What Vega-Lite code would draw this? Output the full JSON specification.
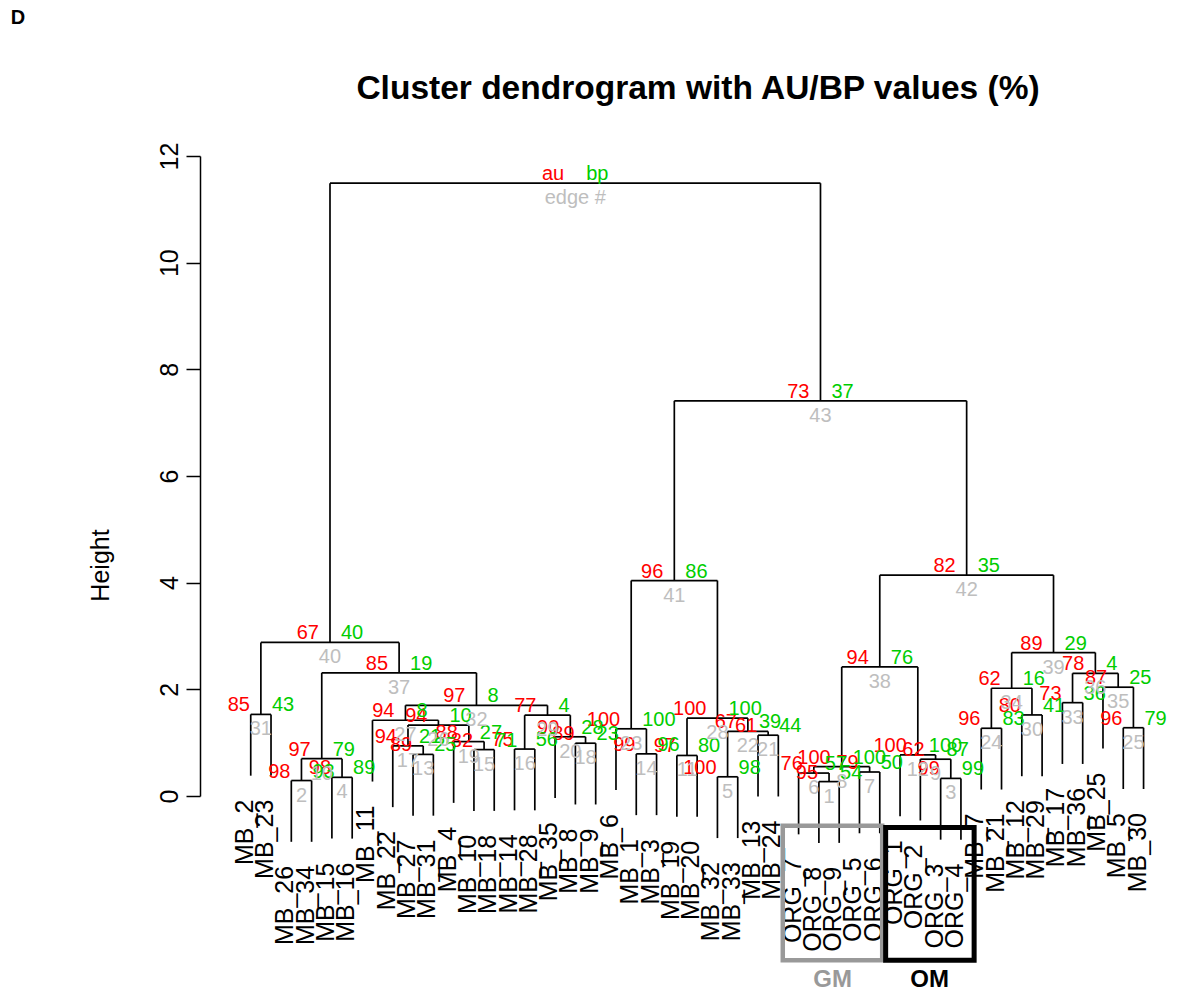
{
  "$schema": "https://vega.github.io/schema/vega-lite/v6.json",
  "autosize": {"type": "none"},
  "padding": {"left": 200, "top": 156, "right": 3, "bottom": 209},
  "width": 974,
  "height": 640,
  "title": {"text": "Cluster dendrogram with AU/BP values (%)", "fontSize": 33.5, "fontWeight": "bold", "font": "Liberation Sans", "color": "black", "anchor": "middle", "frame": "group", "offset": 0, "dx": 11, "dy": 125, "baseline": "alphabetic"},
  "config": {"view": {"stroke": null}, "font": "Liberation Sans"},
  "datasets": {
    "merges": [
      {"edge":"1","x":29.5,"h":0.27,"xl":29,"hl":-0.879,"xr":30,"hr":-0.879,"au":"95","bp":"54"},
      {"edge":"2","x":3.5,"h":0.29,"xl":3,"hl":-0.859,"xr":4,"hr":-0.859,"au":"98","bp":"93"},
      {"edge":"3","x":35.5,"h":0.33,"xl":35,"hl":-0.819,"xr":36,"hr":-0.819,"au":"99","bp":"99"},
      {"edge":"4","x":5.5,"h":0.35,"xl":5,"hl":-0.799,"xr":6,"hr":-0.799,"au":"98","bp":"89"},
      {"edge":"5","x":24.5,"h":0.36,"xl":24,"hl":-0.789,"xr":25,"hr":-0.789,"au":"100","bp":"98"},
      {"edge":"6","x":28.75,"h":0.43,"xl":28,"hl":-0.719,"xr":29.5,"hr":0.27,"au":"76","bp":"57"},
      {"edge":"7","x":31.5,"h":0.45,"xl":31,"hl":-0.699,"xr":32,"hr":-0.699,"au":"79","bp":"50"},
      {"edge":"8","x":30.125,"h":0.55,"xl":28.75,"hl":0.43,"xr":31.5,"hr":0.45,"au":"100","bp":"100"},
      {"edge":"9","x":34.75,"h":0.69,"xl":34,"hl":-0.459,"xr":35.5,"hr":0.33,"au":"62","bp":"87"},
      {"edge":"10","x":4.5,"h":0.70,"xl":3.5,"hl":0.29,"xr":5.5,"hr":0.35,"au":"97","bp":"79"},
      {"edge":"11","x":22.5,"h":0.76,"xl":22,"hl":-0.389,"xr":23,"hr":-0.389,"au":"97","bp":"80"},
      {"edge":"12","x":33.875,"h":0.77,"xl":33,"hl":-0.379,"xr":34.75,"hr":0.69,"au":"100","bp":"100"},
      {"edge":"13","x":9.5,"h":0.78,"xl":9,"hl":-0.369,"xr":10,"hr":-0.369,"au":"89","bp":"25"},
      {"edge":"14","x":20.5,"h":0.79,"xl":20,"hl":-0.359,"xr":21,"hr":-0.359,"au":"99","bp":"96"},
      {"edge":"15","x":12.5,"h":0.87,"xl":12,"hl":-0.279,"xr":13,"hr":-0.279,"au":"82","bp":"71"},
      {"edge":"16","x":14.5,"h":0.88,"xl":14,"hl":-0.269,"xr":15,"hr":-0.269,"au":"75","bp":"56"},
      {"edge":"17","x":8.75,"h":0.94,"xl":8,"hl":-0.209,"xr":9.5,"hr":0.78,"au":"94","bp":"21"},
      {"edge":"18","x":17.5,"h":0.99,"xl":17,"hl":-0.159,"xr":18,"hr":-0.159,"au":"89","bp":"23"},
      {"edge":"19","x":11.75,"h":1.02,"xl":11,"hl":-0.129,"xr":12.5,"hr":0.87,"au":"88","bp":"27"},
      {"edge":"20","x":16.75,"h":1.11,"xl":16,"hl":-0.039,"xr":17.5,"hr":0.99,"au":"90","bp":"28"},
      {"edge":"21","x":26.5,"h":1.14,"xl":26,"hl":-0.009,"xr":27,"hr":-0.009,"au":"61","bp":"44"},
      {"edge":"22","x":25.5,"h":1.21,"xl":24.5,"hl":0.36,"xr":26.5,"hr":1.14,"au":"67","bp":"39"},
      {"edge":"23","x":19.75,"h":1.26,"xl":19,"hl":0.111,"xr":20.5,"hr":0.79,"au":"100","bp":"100"},
      {"edge":"24","x":37.5,"h":1.27,"xl":37,"hl":0.121,"xr":38,"hr":0.121,"au":"96","bp":"83"},
      {"edge":"25","x":44.5,"h":1.28,"xl":44,"hl":0.131,"xr":45,"hr":0.131,"au":"96","bp":"79"},
      {"edge":"26","x":10.25,"h":1.33,"xl":8.75,"hl":0.94,"xr":11.75,"hr":1.02,"au":"94","bp":"10"},
      {"edge":"27","x":8.625,"h":1.42,"xl":7,"hl":0.271,"xr":10.25,"hr":1.33,"au":"94","bp":"8"},
      {"edge":"28","x":24,"h":1.46,"xl":22.5,"hl":0.76,"xr":25.5,"hr":1.21,"au":"100","bp":"100"},
      {"edge":"29","x":15.625,"h":1.515,"xl":14.5,"hl":0.88,"xr":16.75,"hr":1.11,"au":"77","bp":"4"},
      {"edge":"30","x":39.5,"h":1.52,"xl":39,"hl":0.371,"xr":40,"hr":0.371,"au":"80","bp":"41"},
      {"edge":"31","x":1.5,"h":1.53,"xl":1,"hl":0.381,"xr":2,"hr":0.381,"au":"85","bp":"43"},
      {"edge":"32","x":12.125,"h":1.70,"xl":8.625,"hl":1.42,"xr":15.625,"hr":1.515,"au":"97","bp":"8"},
      {"edge":"33","x":41.5,"h":1.75,"xl":41,"hl":0.601,"xr":42,"hr":0.601,"au":"73","bp":"36"},
      {"edge":"34","x":38.5,"h":2.02,"xl":37.5,"hl":1.27,"xr":39.5,"hr":1.52,"au":"62","bp":"16"},
      {"edge":"35","x":43.75,"h":2.04,"xl":43,"hl":0.891,"xr":44.5,"hr":1.28,"au":"87","bp":"25"},
      {"edge":"36","x":42.625,"h":2.30,"xl":41.5,"hl":1.75,"xr":43.75,"hr":2.04,"au":"78","bp":"4"},
      {"edge":"37","x":8.3125,"h":2.31,"xl":4.5,"hl":0.70,"xr":12.125,"hr":1.70,"au":"85","bp":"19"},
      {"edge":"38","x":32,"h":2.42,"xl":30.125,"hl":0.55,"xr":33.875,"hr":0.77,"au":"94","bp":"76"},
      {"edge":"39","x":40.5625,"h":2.69,"xl":38.5,"hl":2.02,"xr":42.625,"hr":2.30,"au":"89","bp":"29"},
      {"edge":"40","x":4.90625,"h":2.88,"xl":1.5,"hl":1.53,"xr":8.3125,"hr":2.31,"au":"67","bp":"40"},
      {"edge":"41","x":21.875,"h":4.04,"xl":19.75,"hl":1.26,"xr":24,"hr":1.46,"au":"96","bp":"86"},
      {"edge":"42","x":36.28125,"h":4.14,"xl":32,"hl":2.42,"xr":40.5625,"hr":2.69,"au":"82","bp":"35"},
      {"edge":"43","x":29.078125,"h":7.41,"xl":21.875,"hl":4.04,"xr":36.28125,"hr":4.14,"au":"73","bp":"37"},
      {"edge":"edge #","x":16.9921875,"h":11.49,"xl":4.90625,"hl":2.88,"xr":29.078125,"hr":7.41,"au":"au","bp":"bp"}
    ],
    "leaves": [
      {"label":"MB_2","pos":1,"bottom":0.381},
      {"label":"MB_23","pos":2,"bottom":0.381},
      {"label":"MB_26","pos":3,"bottom":-0.859},
      {"label":"MB_34","pos":4,"bottom":-0.859},
      {"label":"MB_15","pos":5,"bottom":-0.799},
      {"label":"MB_16","pos":6,"bottom":-0.799},
      {"label":"MB_11","pos":7,"bottom":0.271},
      {"label":"MB_22","pos":8,"bottom":-0.209},
      {"label":"MB_27","pos":9,"bottom":-0.369},
      {"label":"MB_31","pos":10,"bottom":-0.369},
      {"label":"MB_4","pos":11,"bottom":-0.129},
      {"label":"MB_10","pos":12,"bottom":-0.279},
      {"label":"MB_18","pos":13,"bottom":-0.279},
      {"label":"MB_14","pos":14,"bottom":-0.269},
      {"label":"MB_28","pos":15,"bottom":-0.269},
      {"label":"MB_35","pos":16,"bottom":-0.039},
      {"label":"MB_8","pos":17,"bottom":-0.159},
      {"label":"MB_9","pos":18,"bottom":-0.159},
      {"label":"MB_6","pos":19,"bottom":0.111},
      {"label":"MB_1","pos":20,"bottom":-0.359},
      {"label":"MB_3","pos":21,"bottom":-0.359},
      {"label":"MB_19","pos":22,"bottom":-0.389},
      {"label":"MB_20","pos":23,"bottom":-0.389},
      {"label":"MB_32","pos":24,"bottom":-0.789},
      {"label":"MB_33","pos":25,"bottom":-0.789},
      {"label":"MB_13","pos":26,"bottom":-0.009},
      {"label":"MB_24","pos":27,"bottom":-0.009},
      {"label":"ORG_7","pos":28,"bottom":-0.719},
      {"label":"ORG_8","pos":29,"bottom":-0.879},
      {"label":"ORG_9","pos":30,"bottom":-0.879},
      {"label":"ORG_5","pos":31,"bottom":-0.699},
      {"label":"ORG_6","pos":32,"bottom":-0.699},
      {"label":"ORG_1","pos":33,"bottom":-0.379},
      {"label":"ORG_2","pos":34,"bottom":-0.459},
      {"label":"ORG_3","pos":35,"bottom":-0.819},
      {"label":"ORG_4","pos":36,"bottom":-0.819},
      {"label":"MB_7","pos":37,"bottom":0.121},
      {"label":"MB_21","pos":38,"bottom":0.121},
      {"label":"MB_12","pos":39,"bottom":0.371},
      {"label":"MB_29","pos":40,"bottom":0.371},
      {"label":"MB_17","pos":41,"bottom":0.601},
      {"label":"MB_36","pos":42,"bottom":0.601},
      {"label":"MB_25","pos":43,"bottom":0.891},
      {"label":"MB_5","pos":44,"bottom":0.131},
      {"label":"MB_30","pos":45,"bottom":0.131}
    ]
  },
  "layer": [
    {
      "data": {"name": "merges"},
      "mark": {"type": "rule", "color": "black", "strokeWidth": 1.7},
      "encoding": {
        "x": {"field": "xl", "type": "quantitative", "scale": {"domain": [-1.5, 46.5], "nice": false, "zero": false}, "axis": null},
        "x2": {"field": "xr"},
        "y": {"field": "h", "type": "quantitative", "title": "Height", "scale": {"domain": [0, 12], "nice": false},
          "axis": {"title": "Height", "values": [0,2,4,6,8,10,12], "grid": false, "tickSize": 14, "tickWidth": 1.5, "tickColor": "black", "domainColor": "black", "domainWidth": 1.5, "labelAngle": 270, "labelAlign": "center", "labelBaseline": "bottom", "labelFontSize": 25, "labelColor": "black", "labelPadding": 4, "labelFont": "Liberation Sans", "labelFlush": false, "labelOverlap": false, "titleFontSize": 25, "titleFontWeight": "normal", "titleColor": "black", "titleFont": "Liberation Sans", "titleAngle": 270, "titleX": -100, "titleY": 409, "titleAlign": "center", "titleBaseline": "middle"}}
      }
    },
    {
      "data": {"name": "merges"},
      "mark": {"type": "rule", "color": "black", "strokeWidth": 1.7},
      "encoding": {
        "x": {"field": "xl", "type": "quantitative"},
        "y": {"field": "hl", "type": "quantitative", "title": "Height"},
        "y2": {"field": "h"}
      }
    },
    {
      "data": {"name": "merges"},
      "mark": {"type": "rule", "color": "black", "strokeWidth": 1.7},
      "encoding": {
        "x": {"field": "xr", "type": "quantitative"},
        "y": {"field": "hr", "type": "quantitative", "title": "Height"},
        "y2": {"field": "h"}
      }
    },
    {
      "data": {"name": "merges"},
      "mark": {"type": "text", "color": "#FF0000", "fontSize": 20, "align": "right", "baseline": "middle", "dx": -11, "dy": -9},
      "encoding": {
        "x": {"field": "x", "type": "quantitative"},
        "y": {"field": "h", "type": "quantitative", "title": "Height"},
        "text": {"field": "au", "type": "nominal"}
      }
    },
    {
      "data": {"name": "merges"},
      "mark": {"type": "text", "color": "#00CD00", "fontSize": 20, "align": "left", "baseline": "middle", "dx": 11, "dy": -9},
      "encoding": {
        "x": {"field": "x", "type": "quantitative"},
        "y": {"field": "h", "type": "quantitative", "title": "Height"},
        "text": {"field": "bp", "type": "nominal"}
      }
    },
    {
      "data": {"name": "merges"},
      "mark": {"type": "text", "color": "#BEBEBE", "fontSize": 20, "align": "center", "baseline": "top", "dy": 5},
      "encoding": {
        "x": {"field": "x", "type": "quantitative"},
        "y": {"field": "h", "type": "quantitative", "title": "Height"},
        "text": {"field": "edge", "type": "nominal"}
      }
    },
    {
      "data": {"name": "leaves"},
      "mark": {"type": "text", "color": "black", "fontSize": 25, "angle": 270, "align": "right", "baseline": "alphabetic", "dx": -24, "dy": 2},
      "encoding": {
        "x": {"field": "pos", "type": "quantitative"},
        "y": {"field": "bottom", "type": "quantitative", "title": "Height"},
        "text": {"field": "label", "type": "nominal"}
      }
    },
    {
      "data": {"values": [{"group": "GM"}]},
      "mark": {"type": "rect", "fill": null, "filled": false, "stroke": "#999999", "strokeWidth": 4.5},
      "encoding": {
        "x": {"datum": 27.22, "type": "quantitative"},
        "x2": {"datum": 32.12},
        "y": {"datum": -0.56, "type": "quantitative", "title": "Height"},
        "y2": {"datum": -3.08}
      }
    },
    {
      "data": {"values": [{"group": "OM"}]},
      "mark": {"type": "rect", "fill": null, "filled": false, "stroke": "black", "strokeWidth": 5},
      "encoding": {
        "x": {"datum": 32.29, "type": "quantitative"},
        "x2": {"datum": 36.65},
        "y": {"datum": -0.59, "type": "quantitative", "title": "Height"},
        "y2": {"datum": -3.08}
      }
    },
    {
      "data": {"values": [{"group": "GM"}]},
      "mark": {"type": "text", "color": "#999999", "fontSize": 24, "fontWeight": "bold", "align": "center", "baseline": "middle"},
      "encoding": {
        "x": {"datum": 29.68, "type": "quantitative"},
        "y": {"datum": -3.45, "type": "quantitative", "title": "Height"},
        "text": {"value": "GM"}
      }
    },
    {
      "data": {"values": [{"group": "OM"}]},
      "mark": {"type": "text", "color": "black", "fontSize": 24, "fontWeight": "bold", "align": "center", "baseline": "middle"},
      "encoding": {
        "x": {"datum": 34.46, "type": "quantitative"},
        "y": {"datum": -3.45, "type": "quantitative", "title": "Height"},
        "text": {"value": "OM"}
      }
    },
    {
      "data": {"values": [{"panel": "D"}]},
      "mark": {"type": "text", "color": "black", "fontSize": 20, "fontWeight": "bold", "align": "center", "baseline": "middle"},
      "encoding": {
        "x": {"datum": -10.47, "type": "quantitative"},
        "y": {"datum": 14.59, "type": "quantitative", "title": "Height"},
        "text": {"field": "panel", "type": "nominal"}
      }
    }
  ]
}
